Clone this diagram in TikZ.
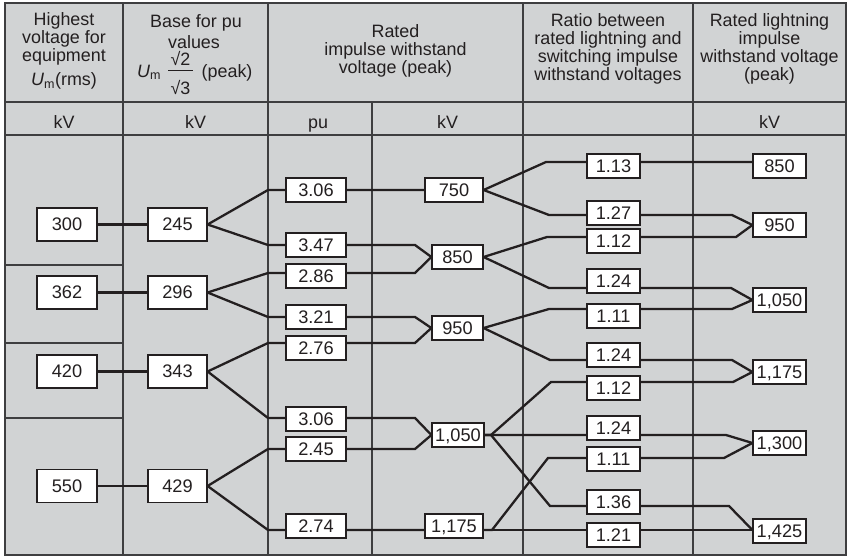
\documentclass[tikz,border=0pt]{standalone}
\usepackage{fontspec}
\setmainfont{Liberation Sans}
\definecolor{bgc}{RGB}{209,211,212}
\definecolor{ink}{RGB}{35,31,32}
\definecolor{gridc}{RGB}{62,62,64}
\newcommand\hdrfont{\fontsize{17.9}{18}\selectfont}
\newcommand\boxfont{\fontsize{18.2}{19}\selectfont}
\pgfdeclarelayer{bglayer}
\pgfdeclarelayer{linelayer}
\pgfsetlayers{bglayer,linelayer,main}
\tikzset{
  gridline/.style={draw=gridc, line width=1.3pt},
  conn/.style={draw=ink, line width=2.3pt},
  valbox/.style={draw=ink, fill=white, line width=1.2pt, inner sep=0pt,
    font=\boxfont, text=ink, text height=12.9pt, text depth=0pt},
  wbox/.style={valbox, minimum width=60pt, minimum height=33pt},
  pbox/.style={valbox, minimum width=60pt, minimum height=24pt},
  rbox/.style={valbox, minimum width=53pt, minimum height=24pt},
  hdr/.style={font=\hdrfont, text=ink, inner sep=0pt, anchor=base}
}
\begin{document}
\begin{tikzpicture}[x=1pt,y=-1pt]
\useasboundingbox (0,0) rectangle (848,556);
\begin{pgfonlayer}{bglayer}
\fill[white] (0,0) rectangle (848,556);
\fill[bgc] (5,3) rectangle (846,555);
\draw[gridline] (123,3) -- (123,555);
\draw[gridline] (268,3) -- (268,555);
\draw[gridline] (372,102) -- (372,555);
\draw[gridline] (523,3) -- (523,555);
\draw[gridline] (693,3) -- (693,555);
\draw[gridline] (5,102) -- (846,102);
\draw[gridline] (5,135) -- (846,135);
\draw[gridline] (5,265) -- (123,265);
\draw[gridline] (5,343) -- (123,343);
\draw[gridline] (5,418) -- (123,418);
\draw[gridline] (5,3) rectangle (846,555);
\end{pgfonlayer}

% header texts
\node[hdr] (h1a) at (64,26) {Highest};
\node[hdr] (h1b) at (64,43.5) {voltage for};
\node[hdr] (h1c) at (64,61.5) {equipment};
\node[hdr] (h1d) at (64,86) {\textit{U}\textsubscript{m}(rms)};
\node[hdr] (h2a) at (196,27.5) {Base for pu};
\node[hdr] (h2b) at (194,48.5) {values};
\node[hdr, anchor=base west] (h2u) at (137,77.3) {\textit{U}\textsubscript{m}};
\node[hdr] (h2n) at (180.5,65.7) {√2};
\node[hdr] (h2d) at (180.5,95) {√3};
\draw[ink, line width=0.9pt] (168,70.7) -- (193,70.7);
\node[hdr, anchor=base west] (h2p) at (201.5,77.3) {(peak)};
\node[hdr] (h3a) at (395.5,37.5) {Rated};
\node[hdr] (h3b) at (395.5,55.5) {impulse withstand};
\node[hdr] (h3c) at (395.5,73.5) {voltage (peak)};
\node[hdr] (h4a) at (608,26.7) {Ratio between};
\node[hdr] (h4b) at (608,45) {rated lightning and};
\node[hdr] (h4c) at (608,62.7) {switching impulse};
\node[hdr] (h4d) at (608,81) {withstand voltages};
\node[hdr] (h5a) at (769.5,26.7) {Rated lightning};
\node[hdr] (h5b) at (769.5,45) {impulse};
\node[hdr] (h5c) at (769.5,62.7) {withstand voltage};
\node[hdr] (h5d) at (769.5,81) {(peak)};
\node[hdr] (u1) at (64,128.3) {kV};
\node[hdr] (u2) at (195.5,128.3) {kV};
\node[hdr] (u3) at (318,128.3) {pu};
\node[hdr] (u4) at (447.5,128.3) {kV};
\node[hdr] (u6) at (769.5,128.3) {kV};

% column 1
\node[wbox] (a300) at (67,224.5) {300};
\node[wbox] (a362) at (67,292.5) {362};
\node[wbox] (a420) at (67,371.5) {420};
\node[wbox] (a550) at (67,486) {550};
% column 2
\node[wbox, minimum width=59pt] (b245) at (177.5,224.5) {245};
\node[wbox, minimum width=59pt] (b296) at (177.5,292.5) {296};
\node[wbox, minimum width=59pt] (b343) at (177.5,371.5) {343};
\node[wbox, minimum width=59pt] (b429) at (177.5,486) {429};
% pu
\node[pbox] (p306a) at (316,190) {3.06};
\node[pbox] (p347) at (316,245) {3.47};
\node[pbox] (p286) at (316,276) {2.86};
\node[pbox] (p321) at (316,317) {3.21};
\node[pbox] (p276) at (316,348) {2.76};
\node[pbox] (p306b) at (316,419) {3.06};
\node[pbox] (p245) at (316,449) {2.45};
\node[pbox] (p274) at (316,526) {2.74};
% switching impulse kV
\node[pbox, minimum width=58pt] (s750) at (454,190) {750};
\node[pbox, minimum width=51pt] (s850) at (457.5,257) {850};
\node[pbox, minimum width=51pt] (s950) at (457.5,328) {950};
\node[pbox, minimum width=52pt] (s1050) at (458,435) {1,050};
\node[pbox, minimum width=58pt] (s1175) at (454,526) {1,175};
% ratios
\node[rbox] (r113) at (613.5,166) {1.13};
\node[rbox] (r127) at (613.5,213) {1.27};
\node[rbox] (r112) at (613.5,241) {1.12};
\node[rbox] (r124) at (613.5,281) {1.24};
\node[rbox] (r111) at (613.5,316) {1.11};
\node[rbox] (r124b) at (613.5,355) {1.24};
\node[rbox] (r112b) at (613.5,388) {1.12};
\node[rbox] (r124c) at (613.5,428) {1.24};
\node[rbox] (r111b) at (613.5,459) {1.11};
\node[rbox] (r136) at (613.5,502) {1.36};
\node[rbox] (r121) at (613.5,535) {1.21};
% lightning impulse
\node[rbox] (f850) at (779.5,166) {850};
\node[rbox] (f950) at (779.5,225) {950};
\node[rbox] (f1050) at (779.5,300) {1,050};
\node[rbox] (f1175) at (779.5,372) {1,175};
\node[rbox] (f1300) at (779.5,443) {1,300};
\node[rbox] (f1425) at (779.5,531) {1,425};

\begin{pgfonlayer}{linelayer}
% Um to base
\draw[conn] (a300) -- (b245);
\draw[conn] (a362) -- (b296);
\draw[conn] (a420) -- (b343);
\draw[conn] (a550) -- (b429);
% base to pu to kV
\draw[conn] (b245.east) -- (268,190) -- (s750.west);
\draw[conn] (b245.east) -- (268,245) -- (415,245) -- (s850.west);
\draw[conn] (b296.east) -- (268,273) -- (415,273) -- (s850.west);
\draw[conn] (b296.east) -- (268,317) -- (415,317) -- (s950.west);
\draw[conn] (b343.east) -- (268,343) -- (415,343) -- (s950.west);
\draw[conn] (b343.east) -- (268,418) -- (415,418) -- (s1050.west);
\draw[conn] (b429.east) -- (268,449) -- (415,449) -- (s1050.west);
\draw[conn] (b429.east) -- (268,530) -- ([yshift=-4pt]s1175.west);
% kV to ratios to lightning
\draw[conn] (s750.east) -- (546,162) -- ([yshift=4pt]f850.west);
\draw[conn] (s750.east) -- (549,215) -- (732,215) -- (f950.west);
\draw[conn] (s850.east) -- (547,237) -- (736,237) -- (f950.west);
\draw[conn] (s850.east) -- (549,288) -- (731,288) -- (f1050.west);
\draw[conn] (s950.east) -- (549,309) -- (732,309) -- (f1050.west);
\draw[conn] (s950.east) -- (550,360) -- (732,360) -- (f1175.west);
\draw[conn] (s1050.east) -- (491,435) -- (551,382) -- (733,382) -- (f1175.west);
\draw[conn] (s1050.east) -- (491,435) -- (726,435) -- (f1300.west);
\draw[conn] (s1050.east) -- (491,435) -- (550,506) -- (729,506) -- ([yshift=1pt]f1425.west);
\draw[conn] ([yshift=-4pt]s1175.east) -- (492,530) -- (548,458) -- (724,458) -- (f1300.west);
\draw[conn] ([yshift=-4pt]s1175.east) -- ([yshift=1pt]f1425.west);
\end{pgfonlayer}
\end{tikzpicture}
\end{document}
